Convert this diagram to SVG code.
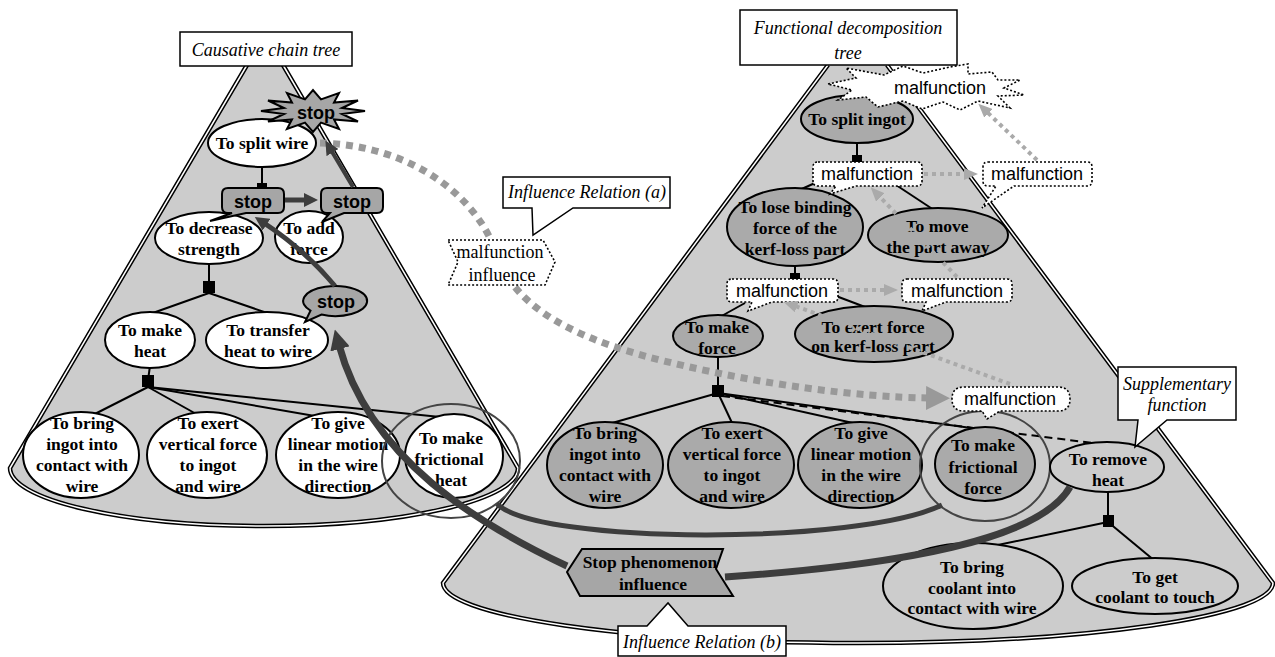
<svg xmlns="http://www.w3.org/2000/svg" width="1275" height="657" viewBox="0 0 1275 657">
<style>
.cone{fill:#cccccc;stroke:none}
.dbl1{fill:none;stroke:#000;stroke-width:4.5}
.dbl2{fill:none;stroke:#fff;stroke-width:1.5}
.wn{fill:#fff;stroke:#000;stroke-width:2}
.gn{fill:#aaaaaa;stroke:#000;stroke-width:2}
.ln{fill:#cccccc;stroke:#000;stroke-width:2}
.ring{fill:none;stroke:#444;stroke-width:2}
.tl{stroke:#000;stroke-width:2;fill:none}
.dash{stroke:#000;stroke-width:2;fill:none;stroke-dasharray:8 5}
.sq{fill:#000}
.box{fill:#fff;stroke:#000;stroke-width:1.5}
.dot{fill:#fff;stroke:#000;stroke-width:1.6;stroke-dasharray:2 2}
.stopf{fill:#a6a6a6;stroke:#000;stroke-width:2}
.thick{fill:none;stroke:#3d3d3d;stroke-linecap:butt}
.bigdot{fill:none;stroke:#999;stroke-width:7;stroke-dasharray:7 6}
.smdot{fill:none;stroke:#aaa;stroke-width:4;stroke-dasharray:4 4}
.nb{font-family:"Liberation Serif","Times New Roman",serif;font-weight:bold;font-size:17.5px;text-anchor:middle;fill:#000}
.it{font-family:"Liberation Serif","Times New Roman",serif;font-style:italic;font-size:18px;text-anchor:middle;fill:#000}
.sr{font-family:"Liberation Serif","Times New Roman",serif;font-size:18px;text-anchor:middle;fill:#000}
.sf{font-family:"Liberation Sans",Arial,sans-serif;font-size:18px;text-anchor:middle;fill:#000}
.sb{font-family:"Liberation Sans",Arial,sans-serif;font-weight:bold;font-size:18px;text-anchor:middle;fill:#000}
</style>
<defs>
<marker id="hd" viewBox="0 0 20 20" markerWidth="20" markerHeight="20" refX="4" refY="10" orient="auto" markerUnits="userSpaceOnUse"><path d="M0,0 L20,10 L0,20 Z" fill="#3d3d3d"/></marker>
<marker id="hds" viewBox="0 0 14 14" markerWidth="14" markerHeight="14" refX="3" refY="7" orient="auto" markerUnits="userSpaceOnUse"><path d="M0,0 L14,7 L0,14 Z" fill="#3d3d3d"/></marker>
<marker id="hg" viewBox="0 0 24 24" markerWidth="24" markerHeight="24" refX="2" refY="12" orient="auto" markerUnits="userSpaceOnUse"><path d="M0,0 L24,12 L0,24 Z" fill="#999"/></marker>
<marker id="hgs" viewBox="0 0 14 12" markerWidth="14" markerHeight="12" refX="2" refY="6" orient="auto" markerUnits="userSpaceOnUse"><path d="M0,0 L14,6 L0,12 Z" fill="#aaa"/></marker>
</defs>
<rect width="1275" height="657" fill="#fff"/>

<g id="cones">
<path class="cone" d="M 247,65 L 10,468 A 254 58 0 0 0 518,468 L 283,65 Z"/>
<path class="dbl1" d="M 247,65 L 10,468 A 254 58 0 0 0 518,468 L 283,65"/>
<path class="dbl2" d="M 247,65 L 10,468 A 254 58 0 0 0 518,468 L 283,65"/>
<path class="cone" d="M 828,65 L 443,583 A 415 60 0 0 0 1273,583 L 887,65 Z"/>
<path class="dbl1" d="M 828,65 L 443,583 A 415 60 0 0 0 1273,583 L 887,65"/>
<path class="dbl2" d="M 828,65 L 443,583 A 415 60 0 0 0 1273,583 L 887,65"/>
</g>

<g id="title-causative">
<rect class="box" x="180" y="32" width="172" height="34"/>
<text class="it" x="266" y="56">Causative chain tree</text>
</g>
<g id="title-functional">
<rect class="box" x="740" y="10" width="217" height="55"/>
<text class="it" x="848" y="34">Functional decomposition</text>
<text class="it" x="848" y="59">tree</text>
</g>

<g id="connectors">
<!-- left tree -->
<line class="tl" x1="262" y1="167" x2="262" y2="188"/>
<rect class="sq" x="257" y="183" width="10" height="7"/>
<line class="tl" x1="209" y1="262" x2="209" y2="287"/>
<rect class="sq" x="203" y="281" width="12" height="12"/>
<line class="tl" x1="209" y1="293" x2="150" y2="314"/>
<line class="tl" x1="209" y1="293" x2="270" y2="314"/>
<line class="tl" x1="150" y1="366" x2="148" y2="380"/>
<rect class="sq" x="142" y="375" width="12" height="12"/>
<line class="tl" x1="148" y1="387" x2="83" y2="420"/>
<line class="tl" x1="148" y1="387" x2="207" y2="420"/>
<line class="tl" x1="148" y1="387" x2="338" y2="420"/>
<line class="tl" x1="148" y1="387" x2="450" y2="418"/>
<!-- right tree -->
<line class="tl" x1="857" y1="142" x2="857" y2="160"/>
<rect class="sq" x="852" y="155" width="10" height="8"/>
<line class="tl" x1="815" y1="183" x2="795" y2="192"/>
<line class="tl" x1="893" y1="183" x2="937" y2="212"/>
<line class="tl" x1="795" y1="264" x2="795" y2="280"/>
<rect class="sq" x="790" y="273" width="10" height="8"/>
<line class="tl" x1="745" y1="303" x2="718" y2="318"/>
<line class="tl" x1="836" y1="296" x2="873" y2="310"/>
<line class="tl" x1="718" y1="356" x2="718" y2="390"/>
<rect class="sq" x="712" y="385" width="12" height="12"/>
<line class="tl" x1="718" y1="393" x2="605" y2="425"/>
<line class="tl" x1="718" y1="393" x2="733" y2="425"/>
<line class="tl" x1="718" y1="393" x2="862" y2="425"/>
<line class="tl" x1="718" y1="393" x2="1000" y2="432"/>
<line class="dash" x1="722" y1="396" x2="1100" y2="444"/>
<line class="tl" x1="1108" y1="491" x2="1108" y2="518"/>
<rect class="sq" x="1103" y="515" width="11" height="12"/>
<line class="tl" x1="1108" y1="522" x2="993" y2="546"/>
<line class="tl" x1="1108" y1="522" x2="1155" y2="561"/>
</g>

<!-- left tree nodes -->
<g id="n-split-wire"><ellipse class="wn" cx="262" cy="143" rx="54" ry="24"/><text class="nb" x="262" y="149">To split wire</text></g>
<g id="n-decrease-strength"><ellipse class="wn" cx="209" cy="238" rx="54" ry="26"/><text class="nb" x="209" y="234">To decrease</text><text class="nb" x="209" y="255">strength</text></g>
<g id="n-add-force"><ellipse class="wn" cx="309" cy="237" rx="34" ry="26"/><text class="nb" x="309" y="234">To add</text><text class="nb" x="309" y="255">force</text></g>
<g id="n-make-heat"><ellipse class="wn" cx="150" cy="340" rx="45" ry="28"/><text class="nb" x="150" y="336">To make</text><text class="nb" x="150" y="357">heat</text></g>
<g id="n-transfer-heat"><ellipse class="wn" cx="267" cy="340" rx="61" ry="28"/><text class="nb" x="268" y="336">To transfer</text><text class="nb" x="268" y="357">heat to wire</text></g>
<g id="n-bring-ingot"><ellipse class="wn" cx="81" cy="455" rx="58" ry="43"/><text class="nb" x="82" y="429">To bring</text><text class="nb" x="82" y="450">ingot into</text><text class="nb" x="82" y="471">contact with</text><text class="nb" x="82" y="492">wire</text></g>
<g id="n-exert-vertical"><ellipse class="wn" cx="207" cy="455" rx="60" ry="43"/><text class="nb" x="208" y="429">To exert</text><text class="nb" x="208" y="450">vertical force</text><text class="nb" x="208" y="471">to ingot</text><text class="nb" x="208" y="492">and wire</text></g>
<g id="n-linear-motion"><ellipse class="wn" cx="338" cy="455" rx="62" ry="43"/><text class="nb" x="338" y="429">To give</text><text class="nb" x="338" y="450">linear motion</text><text class="nb" x="338" y="471">in the wire</text><text class="nb" x="338" y="492">direction</text></g>
<g id="n-frictional-heat"><ellipse class="wn" cx="454" cy="456" rx="49" ry="42"/><text class="nb" x="451" y="444">To make</text><text class="nb" x="449" y="465">frictional</text><text class="nb" x="451" y="486">heat</text><ellipse class="ring" cx="451" cy="461" rx="69" ry="57"/></g>

<!-- right tree nodes -->
<g id="n-split-ingot"><ellipse class="gn" cx="857" cy="119" rx="56" ry="24"/><text class="nb" x="857" y="125">To split ingot</text></g>
<g id="n-lose-binding"><ellipse class="gn" cx="795" cy="227" rx="68" ry="39"/><text class="nb" x="795" y="213">To lose binding</text><text class="nb" x="795" y="234">force of the</text><text class="nb" x="795" y="255">kerf-loss part</text></g>
<g id="n-move-away"><ellipse class="gn" cx="938" cy="235" rx="70" ry="27"/><text class="nb" x="937" y="232">To move</text><text class="nb" x="938" y="253">the part away</text></g>
<g id="n-make-force"><ellipse class="gn" cx="718" cy="336" rx="45" ry="21"/><text class="nb" x="717" y="333">To make</text><text class="nb" x="717" y="354">force</text></g>
<g id="n-exert-kerf"><ellipse class="gn" cx="874" cy="334" rx="79" ry="28"/><text class="nb" x="873" y="333">To exert force</text><text class="nb" x="873" y="352">on kerf-loss part</text></g>
<g id="n-r-bring-ingot"><ellipse class="gn" cx="605" cy="465" rx="58" ry="43"/><text class="nb" x="605" y="439">To bring</text><text class="nb" x="605" y="460">ingot into</text><text class="nb" x="605" y="481">contact with</text><text class="nb" x="605" y="502">wire</text></g>
<g id="n-r-exert-vertical"><ellipse class="gn" cx="731" cy="465" rx="63" ry="43"/><text class="nb" x="732" y="439">To exert</text><text class="nb" x="732" y="460">vertical force</text><text class="nb" x="732" y="481">to ingot</text><text class="nb" x="732" y="502">and wire</text></g>
<g id="n-r-linear-motion"><ellipse class="gn" cx="860" cy="465" rx="62" ry="43"/><text class="nb" x="861" y="439">To give</text><text class="nb" x="861" y="460">linear motion</text><text class="nb" x="861" y="481">in the wire</text><text class="nb" x="861" y="502">direction</text></g>
<g id="n-frictional-force"><ellipse class="gn" cx="985" cy="464" rx="50" ry="37"/><text class="nb" x="983" y="451">To make</text><text class="nb" x="983" y="473">frictional</text><text class="nb" x="983" y="494">force</text><ellipse class="ring" cx="985" cy="466" rx="65" ry="55"/></g>
<g id="n-remove-heat"><ellipse class="ln" cx="1107" cy="467" rx="57" ry="25"/><text class="nb" x="1108" y="465">To remove</text><text class="nb" x="1108" y="486">heat</text></g>
<g id="n-coolant-contact"><ellipse class="ln" cx="973" cy="586" rx="90" ry="43"/><text class="nb" x="972" y="573">To bring</text><text class="nb" x="972" y="594">coolant into</text><text class="nb" x="972" y="614">contact with wire</text></g>
<g id="n-coolant-touch"><ellipse class="ln" cx="1155" cy="586" rx="83" ry="28"/><text class="nb" x="1155" y="583">To get</text><text class="nb" x="1155" y="603">coolant to touch</text></g>

<!-- stop markers -->
<g id="stop-burst"><polygon class="stopf" fill="#999" points="365,111 342,114 358,121.5 334,119.5 339,129 321,122.6 313,132 305,122.6 287,129 292,119.5 268,121.5 284,114 261,111 284,108 268,100.5 292,102.5 287,93 305,99.4 313,90 321,99.4 339,93 334,102.5 358,100.5 342,108"/><text class="sb" x="316" y="119">stop</text></g>
<g id="stop-1"><path class="stopf" d="M 228,188 H 278 Q 284,188 284,194 V 207 Q 284,213 278,213 H 246 L 210,221 L 232,213 H 228 Q 222,213 222,207 V 194 Q 222,188 228,188 Z"/><text class="sb" x="253" y="208">stop</text></g>
<g id="stop-2"><path class="stopf" d="M 327,188 H 377 Q 383,188 383,194 V 207 Q 383,213 377,213 H 344 L 322,222 L 330,213 H 327 Q 321,213 321,207 V 194 Q 321,188 327,188 Z"/><text class="sb" x="352" y="208">stop</text></g>
<g id="stop-3"><path class="stopf" d="M 321.5,314.6 A 32 15 0 1 0 310.5,310.6 L 305,322 Z"/><text class="sb" x="336" y="308">stop</text></g>

<!-- malfunction markers -->
<g id="mal-burst"><polygon class="dot" points="828,84 856,78 846,68 884,75 903,66 923,73 950,67 968,64 968,74 992,72 998,80 1020,80 1004,88 1024,95 998,96 1010,108 978,101 960,110 943,102 922,109 903,101 878,107 866,97 838,100 852,90"/><text class="sf" x="940" y="94">malfunction</text></g>
<g id="mal-1"><path class="dot" d="M 818,162 H 917 Q 922,162 922,167 V 181 Q 922,186 917,186 H 856 L 830,194 L 836,186 H 818 Q 813,186 813,181 V 167 Q 813,162 818,162 Z"/><text class="sf" x="867" y="180">malfunction</text></g>
<g id="mal-2"><path class="dot" d="M 988,162 H 1087 Q 1092,162 1092,167 V 181 Q 1092,186 1087,186 H 1014 L 982,208 L 996,186 H 988 Q 983,186 983,181 V 167 Q 983,162 988,162 Z"/><text class="sf" x="1037" y="180">malfunction</text></g>
<g id="mal-3"><path class="dot" d="M 732,279 H 833 Q 838,279 838,284 V 297 Q 838,302 833,302 H 772 L 748,311 L 752,302 H 732 Q 727,302 727,297 V 284 Q 727,279 732,279 Z"/><text class="sf" x="782" y="297">malfunction</text></g>
<g id="mal-4"><path class="dot" d="M 907,279 H 1007 Q 1012,279 1012,284 V 297 Q 1012,302 1007,302 H 946 L 922,311 L 926,302 H 907 Q 902,302 902,297 V 284 Q 902,279 907,279 Z"/><text class="sf" x="957" y="297">malfunction</text></g>
<g id="mal-5"><path class="dot" d="M 964,387 H 1058 Q 1070,387 1070,399 Q 1070,411 1058,411 H 1000 L 987,419 L 982,411 H 964 Q 952,411 952,399 Q 952,387 964,387 Z"/><text class="sf" x="1010" y="405">malfunction</text></g>

<!-- influence arrows -->
<g id="influence-arrows">
<path class="bigdot" d="M 320,143 C 410,145 475,195 495,250 C 510,300 560,335 660,360 C 760,385 860,397 928,398" marker-end="url(#hg)"/>
<line class="smdot" x1="924" y1="174" x2="966" y2="174" marker-end="url(#hgs)"/>
<line class="smdot" x1="1037" y1="160" x2="987" y2="112" marker-end="url(#hgs)"/>
<line class="smdot" x1="957" y1="277" x2="879" y2="196" marker-end="url(#hgs)"/>
<line class="smdot" x1="840" y1="290" x2="886" y2="290" marker-end="url(#hgs)"/>
<line class="smdot" x1="1010" y1="384" x2="795" y2="306" marker-end="url(#hgs)"/>
<path class="thick" stroke-width="7" d="M 567,566 C 480,525 370,460 339,345" marker-end="url(#hd)"/>
<path class="thick" stroke-width="4" d="M 353,187 L 331,150" marker-end="url(#hds)"/>
<path class="thick" stroke-width="5" d="M 335,286 Q 305,250 264,223" marker-end="url(#hds)"/>
<path class="thick" stroke-width="5" d="M 285,200 L 307,200" marker-end="url(#hds)"/>
<path class="thick" stroke-width="5" d="M 497,504 C 540,545 860,545 942,505"/>
<path class="thick" stroke-width="7" d="M 725,577 C 900,565 1040,540 1070,487"/>
</g>

<g id="malfunction-influence">
<polygon class="dot" points="448,240 543,240 555,262 545,285 448,285 458,262"/>
<text class="sr" x="500" y="258">malfunction</text>
<text class="sr" x="502" y="281">influence</text>
</g>
<g id="stop-phenomenon">
<polygon class="stopf" points="567,572 582,549 723,549 716,569 733,596 580,596"/>
<text class="nb" x="650" y="568">Stop phenomenon</text>
<text class="nb" x="653" y="590">influence</text>
</g>
<g id="label-relation-a">
<path class="box" d="M 503,177 H 670 V 208 H 573 L 533,235 L 532,208 H 503 Z"/>
<text class="it" x="587" y="198">Influence Relation (a)</text>
</g>
<g id="label-relation-b">
<path class="box" d="M 618,626 H 647 L 668,603 L 688,626 H 786 V 656 H 618 Z"/>
<text class="it" x="702" y="648">Influence Relation (b)</text>
</g>
<g id="label-supplementary">
<path class="box" d="M 1118,367 H 1236 V 420 H 1167 L 1135,447 L 1138,420 H 1118 Z"/>
<text class="it" x="1177" y="390">Supplementary</text>
<text class="it" x="1177" y="411">function</text>
</g>
</svg>
